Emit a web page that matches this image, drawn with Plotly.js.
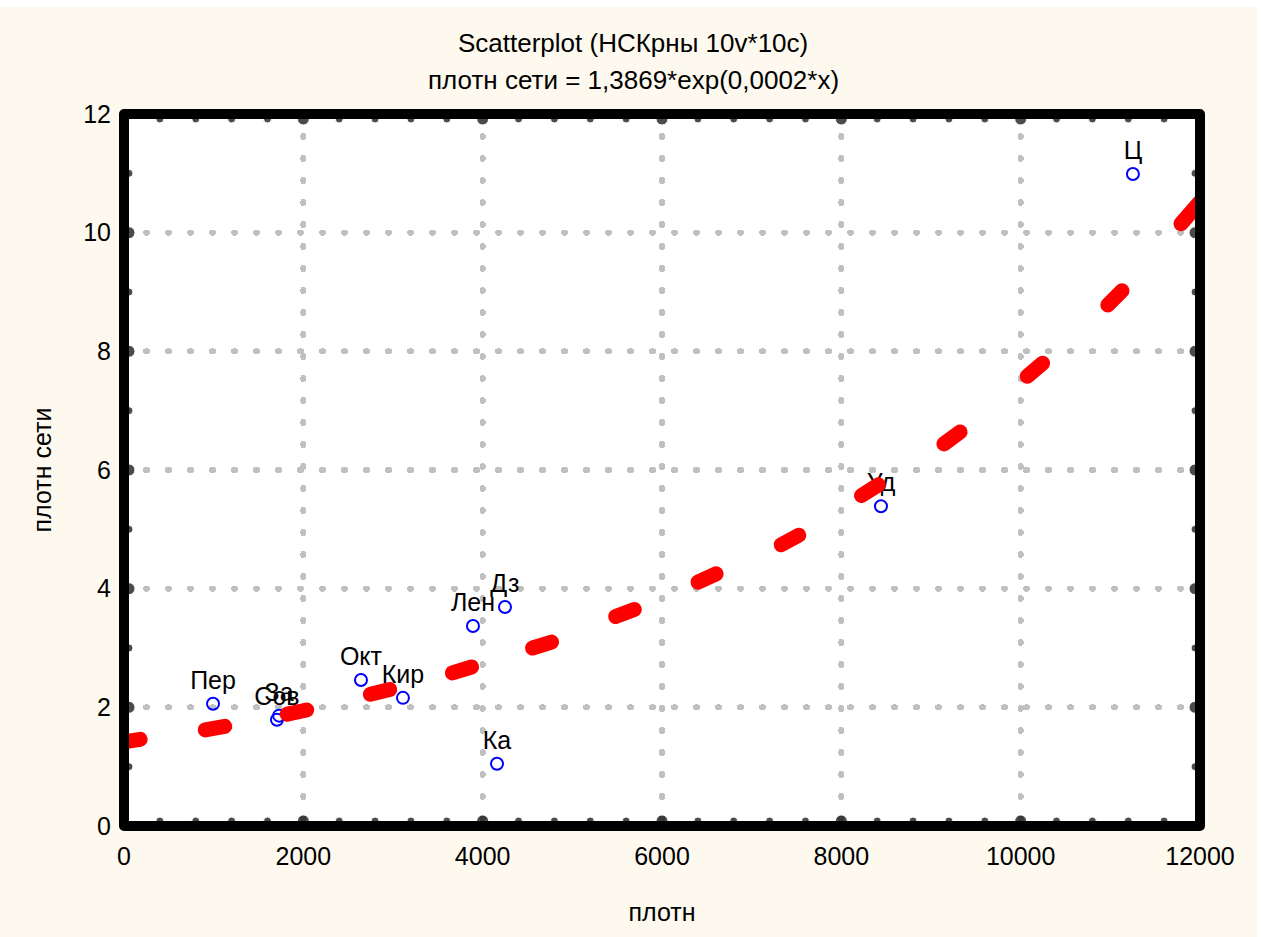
<!DOCTYPE html>
<html><head><meta charset="utf-8">
<script src="https://cdn.plot.ly/plotly-3.0.1.min.js"></script>
<style>html,body{margin:0;padding:0;background:#ffffff;} #chart{position:absolute;left:0;top:7px;width:1257px;height:930px;}</style>
</head><body><div id="chart"></div>
<script>
// Scatter points (district labels, x = плотн, y = плотн сети)
const names = ['Пер','Сов','За','Окт','Кир','Лен','Дз','Ка','Уд','Ц'];
const plotn = [993,1706,1730,2643,3111,3892,4249,4160,8442,11252];
const plotnSeti = [2.06,1.79,1.86,2.46,2.16,3.37,3.69,1.05,5.39,10.99];

// Fitted exponential curve, drawn as dashes: ends of each dash
const dashStartX = [0,906,1820,2747,3662,4556,5483,6401,7329,8225,9144,10074,10972,11788];
const dashEndX   = [180,1124,2038,2963,3876,4768,5691,6603,7525,8413,9324,10244,11130,12000];
const dashStartY = [1.42,1.62,1.885,2.22,2.58,3.00,3.53,4.11,4.74,5.57,6.44,7.58,8.78,10.15];
const dashEndY   = [1.46,1.68,1.955,2.30,2.68,3.10,3.65,4.25,4.90,5.75,6.64,7.80,9.02,10.52];

// Axes
const xRange = [0,12000], xMajor = 2000, xMinor = 400;
const yRange = [0,12], yMajor = 2, yMinor = 1;

const titleLine1 = 'Scatterplot (НСКрны 10v*10c)';
const titleLine2 = 'плотн сети = 1,3869*exp(0,0002*x)';
const xTitle = 'плотн';
const yTitle = 'плотн сети';

// layout geometry
const M = {l:124, r:57, t:107, b:111};
const W = 1257, H = 930;
const pw = W - M.l - M.r, ph = H - M.t - M.b;
const pxX = pw/(xRange[1]-xRange[0]), pxY = ph/(yRange[1]-yRange[0]);

const curveX = [], curveY = [];
for (let i=0;i<dashStartX.length;i++){
  curveX.push(dashStartX[i], dashEndX[i], null);
  curveY.push(dashStartY[i], dashEndY[i], null);
}

// tick dots on the frame
const inX = 5/pxX, inY = 5/pxY;
const tdX=[],tdY=[],tdS=[];
for (let v=xRange[0]+xMinor; v<xRange[1]-1e-9; v+=xMinor){
  const major = Math.abs(v/xMajor - Math.round(v/xMajor))<1e-9;
  const s = major?12:8;
  tdX.push(v,v); tdY.push(yRange[0]+inY, yRange[1]-inY); tdS.push(s,s);
}
for (let v=yRange[0]+yMinor; v<yRange[1]-1e-9; v+=yMinor){
  const major = Math.abs(v/yMajor - Math.round(v/yMajor))<1e-9;
  const s = major?12:8;
  tdX.push(xRange[0]+inX, xRange[1]-inX); tdY.push(v,v); tdS.push(s,s);
}

const font = 'Arial, "Liberation Sans", sans-serif';

const traces = [
  {x: plotn, y: plotnSeti, text: names, mode:'markers+text', type:'scatter',
   textposition:'top center', textfont:{family:font,size:25,color:'#000'},
   marker:{symbol:'circle-open', size:12, color:'#0000ff', line:{width:2,color:'#0000ff'}},
   hoverinfo:'skip', cliponaxis:false},
  {x: curveX, y: curveY, mode:'lines', type:'scatter', connectgaps:false,
   line:{color:'#ff0000', width:15}, hoverinfo:'skip'},
  {x: tdX, y: tdY, mode:'markers', type:'scatter', cliponaxis:false,
   marker:{color:'#000', size:tdS}, hoverinfo:'skip'}
];

const axisCommon = {
  showgrid:true, gridcolor:'#c0c0c0', gridwidth:6,
  zeroline:false, showline:false, ticks:'', tickformat:'.0f',
  tickfont:{family:font,size:25,color:'#000'}, automargin:false, fixedrange:true
};

const layout = {
  width:W, height:H, margin:M,
  paper_bgcolor:'#fef9ee', plot_bgcolor:'#ffffff', showlegend:false,
  xaxis: Object.assign({}, axisCommon, {range:xRange, tick0:0, dtick:xMajor, ticklabelstandoff:13,
    title:{text:xTitle, font:{family:font,size:25,color:'#000'}, standoff:34}}),
  yaxis: Object.assign({}, axisCommon, {range:yRange, tick0:0, dtick:yMajor, ticklabelstandoff:12,
    title:{text:yTitle, font:{family:font,size:25,color:'#000'}, standoff:24}}),
  annotations:[
    {text:titleLine1, xref:'paper', yref:'paper', x:(633-M.l)/pw, y:1+(M.t-36)/ph, xanchor:'center', yanchor:'middle', showarrow:false, font:{family:font,size:26,color:'#000'}},
    {text:titleLine2, xref:'paper', yref:'paper', x:(633-M.l)/pw, y:1+(M.t-73)/ph, xanchor:'center', yanchor:'middle', showarrow:false, font:{family:font,size:26,color:'#000'}}
  ],
  shapes:[{type:'rect', xref:'paper', yref:'paper', x0:0, x1:1, y0:0, y1:1, line:{color:'#000', width:10}, layer:'above'}]
};

Plotly.newPlot('chart', traces, layout, {staticPlot:true, displayModeBar:false}).then(function(){
  document.querySelectorAll('.gridlayer path').forEach(p=>{p.style.strokeLinecap='round'; p.style.strokeDasharray='1px,21px';});
  document.querySelectorAll('.scatterlayer .js-line').forEach(p=>{p.style.strokeLinecap='round';});
  document.querySelectorAll('.shapelayer path').forEach(p=>{p.style.strokeLinejoin='round';});
});
</script>
</body></html>
